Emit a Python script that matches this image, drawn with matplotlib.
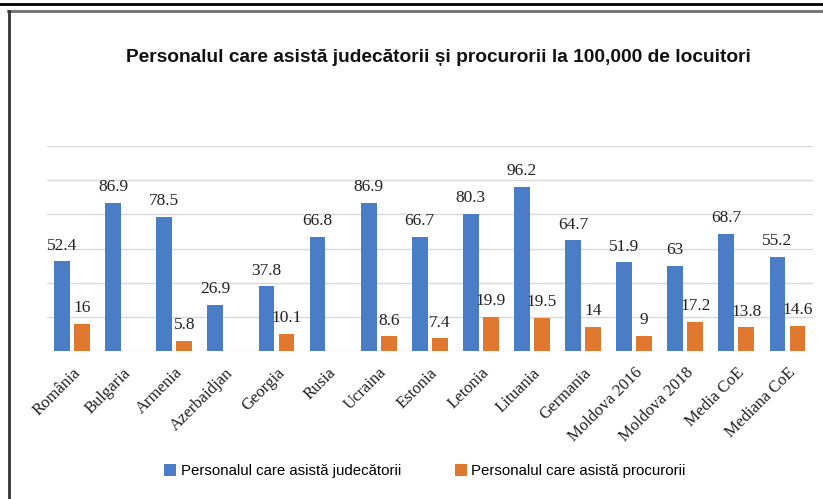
import numpy as np
import matplotlib
matplotlib.use("Agg")
import matplotlib.pyplot as plt
from matplotlib.patches import Patch
from matplotlib.lines import Line2D

categories = ["România", "Bulgaria", "Armenia", "Azerbaidjan", "Georgia", "Rusia",
              "Ucraina", "Estonia", "Letonia", "Lituania", "Germania",
              "Moldova 2016", "Moldova 2018", "Media CoE", "Mediana CoE"]
# bar heights as drawn in the picture (Moldova 2018 bar is drawn lower than its label)
judecatorii = [52.4, 86.9, 78.5, 26.9, 37.8, 66.8, 86.9, 66.7, 80.3, 96.2, 64.7,
               51.9, 49.7, 68.7, 55.2]
judecatorii_labels = ["52.4", "86.9", "78.5", "26.9", "37.8", "66.8", "86.9", "66.7",
                      "80.3", "96.2", "64.7", "51.9", "63", "68.7", "55.2"]
procurorii = [16, np.nan, 5.8, np.nan, 10.1, np.nan, 8.6, 7.4, 19.9, 19.5, 14,
              9, 17.2, 13.8, 14.6]
procurorii_labels = ["16", "", "5.8", "", "10.1", "", "8.6", "7.4", "19.9", "19.5",
                     "14", "9", "17.2", "13.8", "14.6"]
series_names = ["Personalul care asistă judecătorii", "Personalul care asistă procurorii"]
title = "Personalul care asistă judecătorii și procurorii la 100,000 de locuitori"

blue = "#4A7DC6"
orange = "#E0792F"

W, H = 823, 499
fig = plt.figure(figsize=(W / 100, H / 100), dpi=100)
fig.patch.set_facecolor("white")

# frame lines
fig.add_artist(Line2D([0, 1], [1 - 4 / H, 1 - 4 / H], color="black", lw=2.0,
                      transform=fig.transFigure))
fig.add_artist(Line2D([8 / W, 1], [1 - 10.5 / H, 1 - 10.5 / H], color="#6f6f6f", lw=2.0,
                      transform=fig.transFigure))
fig.add_artist(Line2D([8.5 / W, 8.5 / W], [0, 1 - 10.5 / H], color="#333333", lw=2.0,
                      transform=fig.transFigure))

ax = fig.add_axes([46.5 / W, 148 / H, 766.5 / W, 205 / H])
x = np.arange(len(categories))
d = 0.196
w = 0.31
ax.bar(x - d, judecatorii, width=w, color=blue, zorder=3)
ax.bar(x + d, procurorii, width=w, color=orange, zorder=3)

ax.set_xlim(-0.5, len(categories) - 0.5)
ax.set_ylim(0, 120)
ax.set_yticks(np.arange(0, 121, 20))
ax.yaxis.grid(True, color="#d9d9d9", lw=1.0, zorder=0)
ax.set_yticklabels([])
ax.tick_params(axis="y", length=0)
for s in ax.spines.values():
    s.set_visible(False)
ax.set_facecolor("white")

serif = ["Liberation Serif", "DejaVu Serif"]
for xi, v, lab in zip(x, judecatorii, judecatorii_labels):
    ax.annotate(lab, (xi - d, v), xytext=(0, 5.5), textcoords="offset points",
                ha="center", va="bottom", fontsize=12.5, family=serif, color="#222222")
for xi, v, lab in zip(x, procurorii, procurorii_labels):
    if lab:
        ax.annotate(lab, (xi + d, v), xytext=(0, 5.5), textcoords="offset points",
                    ha="center", va="bottom", fontsize=12.5, family=serif, color="#222222")

ax.set_xticks(x)
ax.set_xticklabels(categories, rotation=45, ha="right", rotation_mode="anchor",
                   fontsize=12, family=serif, color="#222222")
ax.tick_params(axis="x", length=0, pad=10)

fig.text(438 / W, 1 - 58 / H, title, ha="center", va="center", fontsize=13.8,
         fontweight="bold", family=["Liberation Sans", "DejaVu Sans"], color="#111111")

handles = [Patch(facecolor=blue), Patch(facecolor=orange)]
fig.legend(handles, series_names, loc="center", bbox_to_anchor=(425 / W, 1 - 471 / H),
           ncol=2, frameon=False, handlelength=0.8, handleheight=0.8, handletextpad=0.3,
           columnspacing=3.6, prop={"family": ["Liberation Sans", "DejaVu Sans"], "size": 10.8})

fig.savefig("out.png", dpi=100, facecolor="white")
